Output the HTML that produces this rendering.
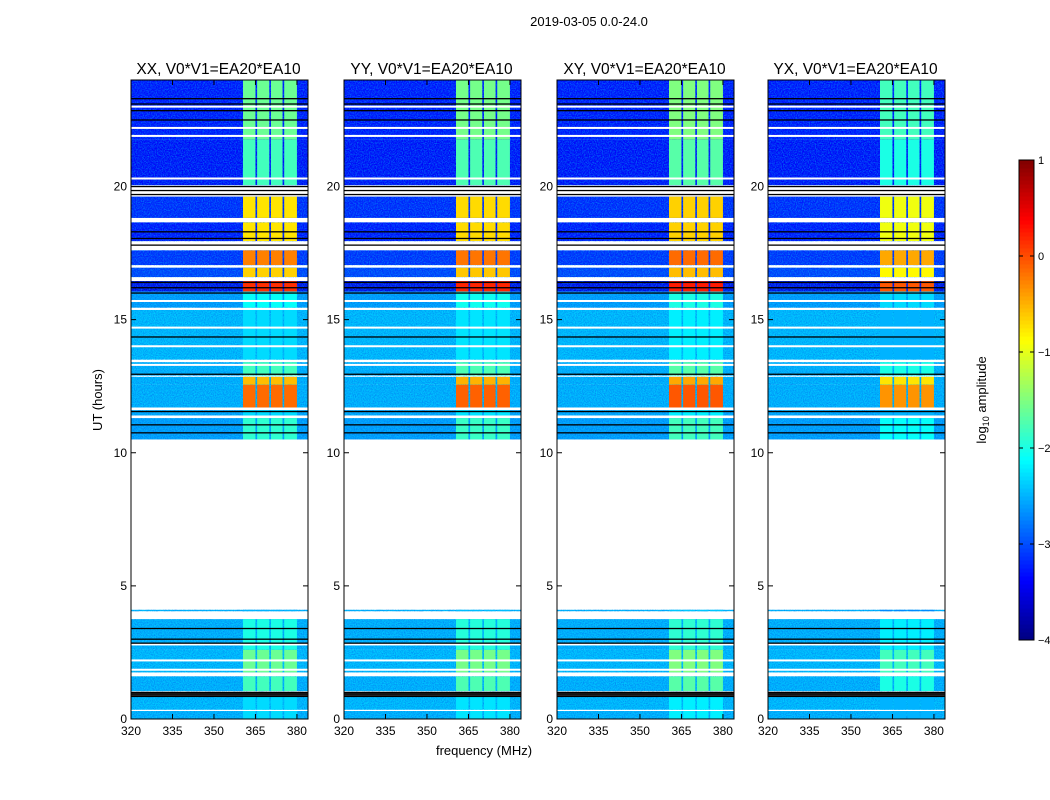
<!DOCTYPE html>
<html><head><meta charset="utf-8">
<style>
body{margin:0;background:#fff;}
svg{display:block;font-family:"Liberation Sans","DejaVu Sans",sans-serif;}
</style></head>
<body>
<svg id="fig" width="1050" height="800" viewBox="0 0 1050 800" xmlns="http://www.w3.org/2000/svg">
<defs>
<filter id="speck" x="0" y="0" width="100%" height="100%">
<feTurbulence type="fractalNoise" baseFrequency="0.9" numOctaves="1" seed="3"/>
<feColorMatrix type="matrix" values="0 0 0 0 0  0 0 0 0 0.1  0 0 0 0 0.8  0 0 0 -3 1.9"/>
</filter>
<filter id="speck2" x="0" y="0" width="100%" height="100%">
<feTurbulence type="fractalNoise" baseFrequency="0.85" numOctaves="1" seed="11"/>
<feColorMatrix type="matrix" values="0 0 0 0 0  0 0 0 0 1  0 0 0 0 1  0 0 0 -3 1.8"/>
</filter>
</defs>
<text x="589" y="26" font-size="13" text-anchor="middle">2019-03-05 0.0-24.0</text>
<text transform="translate(102,400) rotate(-90)" font-size="13" text-anchor="middle">UT (hours)</text>
<text x="484" y="755" font-size="13" text-anchor="middle">frequency (MHz)</text>
<text transform="translate(986,400) rotate(-90)" font-size="13" text-anchor="middle">log<tspan font-size="9" dy="3">10</tspan><tspan dy="-3"> amplitude</tspan></text>
<g id="panels"></g>
<g id="cbar"></g>
</svg>
<script>
// ---- data ----
const panelTitles = ["XX, V0*V1=EA20*EA10","YY, V0*V1=EA20*EA10","XY, V0*V1=EA20*EA10","YX, V0*V1=EA20*EA10"];
const panelHotOffset = [0, 0.05, 0.1, -0.2];
// time bands (hours): start, end, background log amplitude, hot-block log amplitude
const bandStart = [21.75,20.05,18.82,17.95,17.05,16.6,16.05,15.45,13.5,12.9,12.55,11.7,11.4,10.5,4.05,2.6,1.75,1.05,0.35,0.0];
const bandEnd   = [24.0,21.75,19.62,18.65,17.6,16.95,16.45,16.05,15.4,13.4,12.85,12.55,11.6,11.3,4.1,3.75,2.6,1.6,0.85,0.3];
const bandBg    = [-3.35,-3.4,-3.25,-3.35,-3.2,-3.1,-3.5,-2.6,-2.45,-2.5,-2.5,-2.5,-2.55,-2.6,-2.5,-2.5,-2.45,-2.5,-2.45,-2.5];
const bandHot   = [-1.6,-1.8,-0.75,-0.75,-0.25,-0.65,0.15,-2.1,-2.3,-1.8,-0.55,-0.15,-2.3,-1.9,-2.5,-2.0,-1.6,-1.8,-2.3,-2.3];
const blackLines = [23.3,23.1,22.85,22.5,20.0,19.85,19.7,18.3,18.05,17.8,16.4,16.2,16.0,14.35,12.95,11.55,11.05,10.75,3.4,3.0,2.85,1.0,0.95,0.9,0.85];
const whiteLines = [23.0,22.2,21.9,20.3,15.7,15.4,14.7,14.0,13.3,2.8,2.2,1.85];
const hotFreqStart = [360.5,365.6,370.6,375.4];
const hotFreqEnd   = [365.0,370.0,374.8,380.0];
const xTicks = [320,335,350,365,380];
const yTicks = [0,5,10,15,20];
const cbTicks = [1,0,-1,-2,-3,-4];
const cbLabels = ["1","0","\u22121","\u22122","\u22123","\u22124"];

// ---- helpers ----
const NS="http://www.w3.org/2000/svg";
function mk(tag,attrs,parent){const e=document.createElementNS(NS,tag);for(const k in attrs)e.setAttribute(k,attrs[k]);parent.appendChild(e);return e;}
function jet(v){
  const r=Math.max(0,Math.min(1,1.5-Math.abs(4*v-3)));
  const g=Math.max(0,Math.min(1,1.5-Math.abs(4*v-2)));
  const b=Math.max(0,Math.min(1,1.5-Math.abs(4*v-1)));
  return `rgb(${Math.round(r*255)},${Math.round(g*255)},${Math.round(b*255)})`;
}
function lc(l){return jet((l+4)/5);}
const panelLeft=[131,344,557,768], pW=177, pTop=80, pBot=719;
const fMin=320,fMax=384.0,hMin=0,hMax=24;

const gp=document.getElementById('panels');
panelLeft.forEach((x0,pi)=>{
  const xs=f=>x0+(f-fMin)/(fMax-fMin)*pW;
  const ys=h=>pBot-(h-hMin)/(hMax-hMin)*(pBot-pTop);
  const g=mk('g',{},gp);
  
  
  const cid='clip'+pi;
  const cp=mk('clipPath',{id:cid},g); mk('rect',{x:x0,y:pTop,width:pW,height:pBot-pTop},cp);
  const hm=mk('g',{'clip-path':`url(#${cid})`},g);
  for(let i=0;i<bandStart.length;i++){
    const y1=ys(bandEnd[i]), y2=ys(bandStart[i]);
    const r=mk('rect',{x:x0,y:y1,width:pW,height:y2-y1,fill:lc(bandBg[i])},hm);
    
    
    mk('rect',{x:x0,y:y1,width:pW,height:y2-y1,filter:'url(#speck)',opacity:0.4},hm);
    mk('rect',{x:x0,y:y1,width:pW,height:y2-y1,filter:'url(#speck2)',opacity:0.3},hm);
    for(let j=0;j<hotFreqStart.length;j++){
      const hb=mk('rect',{x:xs(hotFreqStart[j]),y:y1,width:xs(hotFreqEnd[j])-xs(hotFreqStart[j]),height:y2-y1,fill:lc(bandHot[i]+panelHotOffset[pi])},hm);
      
      
    }
  }
  whiteLines.forEach(h=>{mk('rect',{x:x0,y:ys(h)-1,width:pW,height:2,fill:'#fff'},hm);});
  blackLines.forEach(h=>{mk('rect',{x:x0,y:ys(h)-0.6,width:pW,height:1.3,fill:'#000'},hm);});
  mk('rect',{x:x0,y:pTop,width:pW,height:pBot-pTop,fill:'none',stroke:'#000','stroke-width':1},g);
  const t=mk('text',{x:x0+pW/2-1,y:74,'font-size':15.5,'text-anchor':'middle'},g);
  
  
  t.textContent=panelTitles[pi];
  xTicks.forEach(f=>{
    const x=xs(f);
    mk('line',{x1:x,x2:x,y1:pBot,y2:pBot-5,stroke:'#000'},g);
    mk('line',{x1:x,x2:x,y1:pTop,y2:pTop+5,stroke:'#000'},g);
    const tl=mk('text',{x:x,y:pBot+16,'font-size':12,'text-anchor':'middle'},g);
    
    
    tl.textContent=f;
  });
  yTicks.forEach(h=>{
    const y=ys(h);
    mk('line',{x1:x0,x2:x0+5,y1:y,y2:y,stroke:'#000'},g);
    mk('line',{x1:x0+pW,x2:x0+pW-5,y1:y,y2:y,stroke:'#000'},g);
    const tl=mk('text',{x:x0-4,y:y+4,'font-size':12,'text-anchor':'end'},g);
    
    
    tl.textContent=h;
  });
});

// colorbar
const cb=document.getElementById('cbar');


const cbx=1019,cbw=15,cbT=160,cbB=640;
const cys=l=>cbB-(l+4)/5*(cbB-cbT);
for(let i=0;i<120;i++){
  const l0=-4+5*i/120,l1=-4+5*(i+1)/120;
  mk('rect',{x:cbx,y:cys(l1),width:cbw,height:cys(l0)-cys(l1)+0.5,fill:lc((l0+l1)/2)},cb);
}
mk('rect',{x:cbx,y:cbT,width:cbw,height:cbB-cbT,fill:'none',stroke:'#000'},cb);
cbTicks.forEach((l,i)=>{
  const y=cys(l);
  mk('line',{x1:cbx,x2:cbx+4,y1:y,y2:y,stroke:'#000'},cb);
  mk('line',{x1:cbx+cbw,x2:cbx+cbw-4,y1:y,y2:y,stroke:'#000'},cb);
  const tl=mk('text',{x:cbx+cbw+4,y:y+4,'font-size':11},cb);
  
  
  tl.textContent=cbLabels[i];
});
</script>
</body></html>
